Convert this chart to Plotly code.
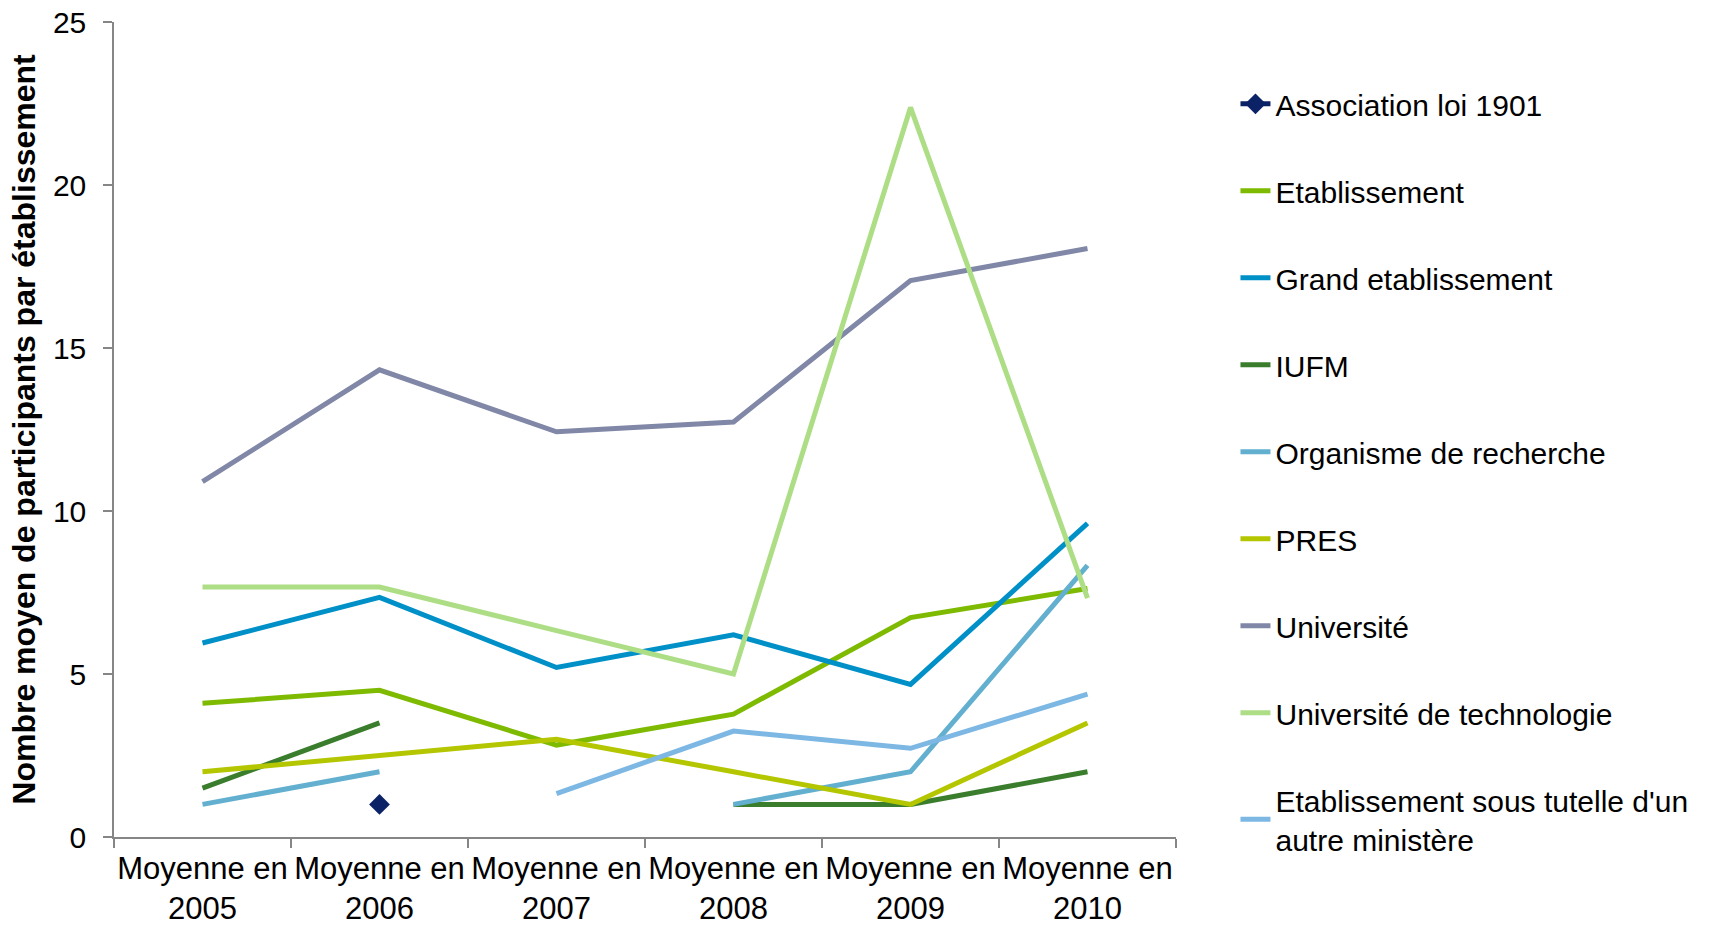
import plotly.graph_objects as go

# Categories (years) and series values: mean number of participants per institution
categories = ["Moyenne en<br>2005", "Moyenne en<br>2006", "Moyenne en<br>2007",
              "Moyenne en<br>2008", "Moyenne en<br>2009", "Moyenne en<br>2010"]

association_1901 = [None, 1.0, None, None, None, None]
etablissement = [4.1, 4.5, 2.82, 3.77, 6.73, 7.62]
grand_etablissement = [5.95, 7.35, 5.2, 6.2, 4.68, 9.62]
iufm = [1.5, 3.5, None, 1.0, 1.0, 2.0]
organisme_recherche = [1.0, 2.0, None, 1.0, 2.0, 8.33]
pres = [2.0, 2.5, 3.0, 2.0, 1.0, 3.5]
universite = [10.9, 14.33, 12.43, 12.73, 17.07, 18.05]
universite_techno = [7.67, 7.67, 6.33, 5.0, 22.38, 7.33]
sous_tutelle = [None, None, 1.33, 3.25, 2.72, 4.38]

series = [
    ("Association loi 1901", association_1901, "#0B2266"),
    ("Etablissement", etablissement, "#7DBA00"),
    ("Grand etablissement", grand_etablissement, "#0090C8"),
    ("IUFM", iufm, "#3A7D2C"),
    ("Organisme de recherche", organisme_recherche, "#62AFCF"),
    ("PRES", pres, "#B4C600"),
    ("Université", universite, "#8087A7"),
    ("Université de technologie", universite_techno, "#ADDE85"),
    ("Etablissement sous tutelle d'un<br>autre ministère", sous_tutelle, "#7DB7E3"),
]

FONT = "Liberation Sans, Arial, sans-serif"

fig = go.Figure()
for i, (name, vals, color) in enumerate(series):
    if i == 0:
        fig.add_trace(go.Scatter(
            x=categories, y=vals, name=name, mode="lines+markers",
            line=dict(color=color, width=5),
            marker=dict(symbol="diamond", size=16, color=color),
            legendgroup=f"g{i}", connectgaps=False,
        ))
    else:
        fig.add_trace(go.Scatter(
            x=categories, y=vals, name=name, mode="lines",
            line=dict(color=color, width=5),
            legendgroup=f"g{i}", connectgaps=False,
        ))

fig.update_layout(
    width=1733, height=928,
    margin=dict(l=114, r=557, t=22, b=91),
    paper_bgcolor="white", plot_bgcolor="white",
    font=dict(family=FONT, size=30, color="#000000"),
    showlegend=True,
    legend=dict(
        x=1.056, y=0.9315, xanchor="left", yanchor="top",
        font=dict(family=FONT, size=30, color="#000000"),
        tracegroupgap=45, traceorder="grouped",
        bgcolor="rgba(0,0,0,0)", maxheight=900,
    ),
    xaxis=dict(
        type="category", tickson="boundaries",
        showline=True, linecolor="#868686", linewidth=1.5,
        ticks="outside", ticklen=9, tickcolor="#868686", tickwidth=1.5,
        showgrid=False, zeroline=False, automargin=False,
        tickfont=dict(family=FONT, size=31, color="#000000"),
        ticklabelstandoff=3,
        range=[-0.5, 5.5], tickangle=0,
    ),
    yaxis=dict(
        range=[0, 25], dtick=5,
        showline=True, linecolor="#868686", linewidth=1.5,
        ticks="outside", ticklen=9, tickcolor="#868686", tickwidth=1.5,
        showgrid=False, zeroline=False, automargin=False,
        tickfont=dict(family=FONT, size=30, color="#000000"),
        ticklabelstandoff=11,
        title=dict(text="<b>Nombre moyen de participants par établissement</b>",
                   font=dict(family=FONT, size=32, color="#000000"), standoff=8),
    ),
)

fig.write_html("out.html")
